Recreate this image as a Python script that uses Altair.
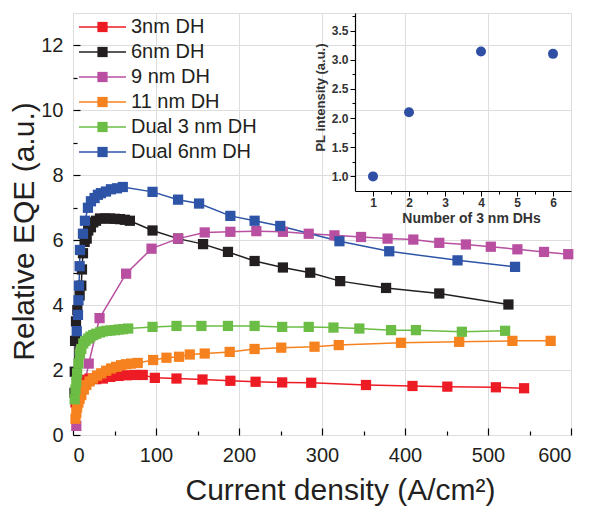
import altair as alt
import pandas as pd

FONT = "Liberation Sans"
W, H = 498, 422

series = ["3nm DH", "6nm DH", "9 nm DH", "11 nm DH", "Dual 3 nm DH", "Dual 6nm DH"]
colors = ["#ED1C24", "#231F20", "#B84FA0", "#F6821F", "#6CBD45", "#2E54A7"]

red_x = [3, 5, 7, 10, 14, 20, 28, 36, 45, 55, 65, 75, 84, 98.6, 124.7, 156, 189.6, 220, 252, 287, 353, 409, 451, 509.5, 543.5]
red_y = [1.0, 1.3, 1.5, 1.62, 1.7, 1.74, 1.72, 1.74, 1.79, 1.82, 1.84, 1.85, 1.85, 1.76, 1.74, 1.71, 1.67, 1.64, 1.62, 1.61, 1.54, 1.51, 1.49, 1.47, 1.44]

black_x = [1.8, 2.1, 2.5, 3.6, 5.2, 8, 10, 10.8, 12, 14, 16.5, 18.4, 21.6, 24.4, 27.7, 32.5, 38.5, 44.5, 50.5, 56.5, 62.5, 68.5,
           95.8, 126.6, 156.7, 186.7, 218.8, 252.9, 285.8, 321.9, 377.2, 441.3, 524.6]
black_y = [1.3, 1.95, 2.9, 3.5, 3.85, 4.3, 4.6, 5.1, 5.6, 5.95, 6.05, 6.3, 6.4, 6.55, 6.6, 6.67, 6.67, 6.67, 6.66, 6.65, 6.63, 6.6,
           6.3, 6.05, 5.88, 5.64, 5.36, 5.16, 5.0, 4.74, 4.53, 4.36, 4.02]

mag_x = [4, 18.9, 32, 64, 94.6, 126.6, 158.7, 189.6, 220.9, 252.9, 284, 315, 347, 379, 410, 441.3, 473.4, 503.4, 535.4, 567.5, 596.7]
mag_y = [0.28, 2.2, 3.6, 4.97, 5.74, 6.05, 6.24, 6.26, 6.28, 6.26, 6.2, 6.15, 6.1, 6.05, 6.02, 5.92, 5.87, 5.8, 5.72, 5.64, 5.57]

orange_x = [3, 4, 5, 6.5, 8, 10, 13, 16, 20, 24, 29, 34, 40, 46, 52, 58, 64, 70, 78,
            96.5, 112.6, 127.8, 140.7, 158.7, 188.8, 218.8, 250.9, 291, 320.2, 395.2, 465.3, 529.4, 575.5]
orange_y = [0.5, 0.68, 0.85, 1.0, 1.12, 1.23, 1.4, 1.54, 1.65, 1.74, 1.83, 1.9, 1.98, 2.05, 2.1, 2.15, 2.18, 2.2, 2.22,
            2.31, 2.38, 2.41, 2.48, 2.51, 2.56, 2.65, 2.69, 2.72, 2.77, 2.84, 2.87, 2.9, 2.9]

green_x = [2, 3, 4, 5, 6.5, 8.4, 10, 12.4, 15, 18.4, 21, 24.4, 28, 32.5, 36, 40.5, 45, 50.5, 55, 60.5, 66.5,
           95.8, 124.7, 154.7, 186.7, 218.8, 252, 284, 313.8, 345, 383.2, 413.2, 468.5, 520.6]
green_y = [1.1, 1.4, 1.64, 1.9, 2.2, 2.5, 2.65, 2.82, 2.9, 2.97, 3.03, 3.08, 3.12, 3.16, 3.19, 3.21, 3.22, 3.23, 3.25, 3.26, 3.28,
           3.33, 3.36, 3.36, 3.36, 3.36, 3.33, 3.33, 3.31, 3.28, 3.23, 3.23, 3.18, 3.21]

blue_x = [4.5, 6, 6.6, 7.2, 8, 8.4, 12, 14.4, 18, 21.6, 26, 30, 33.7, 39.7, 45.7, 53, 60,
          95.8, 126.6, 151.9, 189.6, 218.8, 249.7, 321, 381, 463.3, 532.6]
blue_y = [3.2, 3.7, 4.15, 4.6, 5.2, 5.7, 6.2, 6.6, 7.0, 7.2, 7.3, 7.4, 7.45, 7.5, 7.57, 7.6, 7.64,
          7.49, 7.25, 7.13, 6.75, 6.6, 6.44, 5.97, 5.66, 5.38, 5.18]

inset_n = [1, 2, 4, 6]
inset_pl = [1.0, 2.1, 3.14, 3.1]

x_ticks = [0, 100, 200, 300, 400, 500, 600]
y_ticks = [0, 2, 4, 6, 8, 10, 12]
x_all_ticks = list(range(0, 601, 50))
y_all_ticks = list(range(0, 13))
inset_x_ticks = [1, 1.5, 2, 2.5, 3, 3.5, 4, 4.5, 5, 5.5, 6]
inset_y_ticks = [1.0, 1.25, 1.5, 1.75, 2.0, 2.25, 2.5, 2.75, 3.0, 3.25, 3.5, 3.75]

xl = [red_x, black_x, mag_x, orange_x, green_x, blue_x]
yl = [red_y, black_y, mag_y, orange_y, green_y, blue_y]
rows = []
for name, xs, ys in zip(series, xl, yl):
    for i, (x, y) in enumerate(zip(xs, ys)):
        rows.append({"series": name, "J": x, "EQE": y, "i": i})
df = pd.DataFrame(rows)
inset_df = pd.DataFrame({"n": inset_n, "pl": inset_pl})
leg_df = pd.DataFrame({"series": series})

x_main = alt.Scale(domain=[0, 600], nice=False, zero=False)
y_main = alt.Scale(domain=[0, 13], nice=False, zero=False)
cscale = alt.Scale(domain=series, range=colors)

TXT = "#231F20"

x_enc = alt.X("J:Q", scale=x_main, axis=alt.Axis(
    orient="bottom", values=x_ticks, ticks=False, domain=False,
    labelFontSize=20, labelPadding=10, labelColor=TXT,
    title="Current density (A/cm²)", titleFontSize=30, titleFontWeight="normal",
    titleColor=TXT, titleX=267, titleY=64, titleBaseline="alphabetic"))
y_enc = alt.Y("EQE:Q", scale=y_main, axis=alt.Axis(
    orient="left", values=y_ticks, ticks=False, domain=False,
    labelFontSize=20, labelPadding=10, labelColor=TXT,
    title="Relative EQE (a.u.)", titleFontSize=30, titleFontWeight="normal",
    titleColor=TXT, titleX=-40, titleY=218, titleBaseline="alphabetic"))

lines = alt.Chart(df).mark_line(strokeWidth=1.5).encode(
    x=x_enc, y=y_enc,
    color=alt.Color("series:N", scale=cscale, legend=None),
    order=alt.Order("i:Q"),
    detail="series:N",
)
squares = alt.Chart(df).mark_square(size=105, opacity=1).encode(
    x=x_enc, y=y_enc,
    color=alt.Color("series:N", scale=cscale, legend=None),
)
main = alt.layer(lines, squares)

tick_layer = alt.Chart(df).mark_point(opacity=0).encode(
    x=alt.X("J:Q", scale=x_main, title=None, axis=alt.Axis(
        orient="top", offset=-H, values=x_all_ticks, labels=False, domain=False,
        tickColor="black", tickWidth=1.2,
        tickSize={"condition": {"test": "datum.value % 100 === 0", "value": 7}, "value": 4})),
    y=alt.Y("EQE:Q", scale=y_main, title=None, axis=alt.Axis(
        orient="right", offset=-W, values=y_all_ticks, labels=False, domain=False,
        tickColor="black", tickWidth=1.2,
        tickSize={"condition": {"test": "datum.value % 2 === 0", "value": 7}, "value": 4})),
)

inset = alt.Chart(inset_df).mark_circle(size=100, color="#2E4FA3", opacity=1).encode(
    x=alt.X("n:Q", scale=alt.Scale(domain=[0.5, 6.5], range=[282, 498], nice=False, zero=False),
            axis=alt.Axis(orient="bottom", offset=-244, values=inset_x_ticks,
                          labelExpr="datum.value % 1 === 0 ? format(datum.value, 'd') : ''",
                          tickSize={"condition": {"test": "datum.value % 1 === 0", "value": 5}, "value": 3},
                          domainColor="black", tickColor="black", domainWidth=1.2, tickWidth=1,
                          labelFontSize=12, labelFontWeight="bold", labelColor="#333333", labelPadding=1,
                          title="Number of 3 nm DHs", titleFontSize=14, titleFontWeight="bold",
                          titleColor="#333333", titleX=398, titleY=31, titleBaseline="alphabetic")),
    y=alt.Y("pl:Q", scale=alt.Scale(domain=[0.75, 3.8], range=[178, 0], nice=False, zero=False),
            axis=alt.Axis(orient="left", offset=-282, values=inset_y_ticks,
                          labelExpr="datum.value % 0.5 === 0 ? format(datum.value, '.1f') : ''",
                          tickSize={"condition": {"test": "datum.value % 0.5 === 0", "value": 5}, "value": 3},
                          domainColor="black", tickColor="black", domainWidth=1.2, tickWidth=1,
                          labelFontSize=12, labelFontWeight="bold", labelColor="#333333", labelPadding=2,
                          title="PL intensity (a.u.)", titleFontSize=13, titleFontWeight="bold",
                          titleColor="#333333", titleX=-31, titleY=84, titleBaseline="alphabetic")),
)

# legend drawn as a small layer (rows placed by a point scale)
leg_y = alt.Y("series:N", scale=alt.Scale(type="point", domain=series, range=[14, 139], padding=0), axis=None)
leg_color = alt.Color("series:N", scale=cscale, legend=None)
leg_line = alt.Chart(leg_df).mark_rule(strokeWidth=1.5).encode(
    x=alt.value(6), x2=alt.value(53), y=leg_y, color=leg_color)
leg_sq = alt.Chart(leg_df).mark_square(size=105, opacity=1).encode(
    x=alt.value(29.5), y=leg_y, color=leg_color)
leg_txt = alt.Chart(leg_df).mark_text(align="left", baseline="middle", fontSize=20, font=FONT, color=TXT).encode(
    x=alt.value(58), y=leg_y, text="series:N")
legend_layer = alt.layer(leg_line, leg_sq, leg_txt)

chart = alt.layer(main, tick_layer, inset, legend_layer).resolve_scale(
    x="independent", y="independent"
).properties(
    width=W, height=H,
    padding={"left": 73, "top": 13, "right": 19, "bottom": 71},
    autosize=alt.AutoSizeParams(type="none"),
).configure_view(
    stroke="black", strokeWidth=1.3
).configure_axis(
    grid=False, labelFont=FONT, titleFont=FONT
).configure(background="white")

chart.save("out.html", embed_options={"renderer": "svg", "actions": False})
